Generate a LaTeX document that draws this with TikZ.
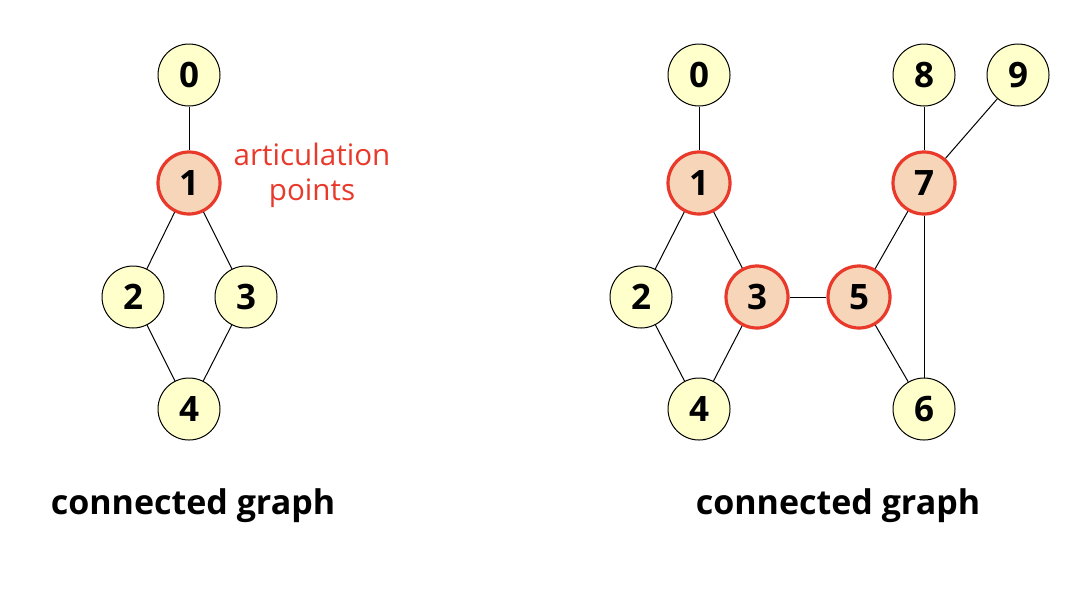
\documentclass[tikz,border=0pt]{standalone}
\usepackage{fontspec}
\setmainfont{Open Sans}
\usetikzlibrary{positioning}
\definecolor{vyellow}{HTML}{FFFFCC}
\definecolor{apfill}{HTML}{F6D5B9}
\definecolor{apred}{HTML}{E8392B}

\begin{document}
\begin{tikzpicture}[
  x=0.5pt, y=-0.5pt,
  vertex/.style={circle, draw=black, line width=0.5pt, fill=vyellow, minimum size=31pt, inner sep=0pt, font=\fontsize{17.5}{19}\selectfont\bfseries},
  artic/.style={vertex, draw=apred, line width=1.6pt, fill=apfill},
  edge/.style={draw=black, line width=0.5pt},
  caption/.style={font=\fontsize{17}{19}\selectfont\bfseries}
]
\useasboundingbox (0,0) rectangle (1068,590);

% left graph
\node[vertex] (l0) at (189,75) {0};
\node[artic] (l1) at (189,183) {1};
\node[vertex] (l2) at (133,297) {2};
\node[vertex] (l3) at (246,297) {3};
\node[vertex] (l4) at (189,409) {4};
\node[text=apred, align=center, font=\fontsize{14.8}{17.5}\selectfont] (note) at (312,175) {articulation\\points};
\node[caption] (lcap) at (193,506) {connected graph};

\draw[edge] (l0) -- (l1);
\draw[edge] (l1) -- (l2);
\draw[edge] (l1) -- (l3);
\draw[edge] (l2) -- (l4);
\draw[edge] (l3) -- (l4);

% right graph
\node[vertex] (r0) at (699,75) {0};
\node[artic] (r1) at (699,183) {1};
\node[vertex] (r2) at (641,297) {2};
\node[artic] (r3) at (757,297) {3};
\node[vertex] (r4) at (699,409) {4};
\node[artic] (r5) at (859,297) {5};
\node[vertex] (r6) at (924,409) {6};
\node[artic] (r7) at (924,183) {7};
\node[vertex] (r8) at (924,75) {8};
\node[vertex] (r9) at (1018,75) {9};
\node[caption] (rcap) at (838,506) {connected graph};

\draw[edge] (r0) -- (r1);
\draw[edge] (r1) -- (r2);
\draw[edge] (r1) -- (r3);
\draw[edge] (r2) -- (r4);
\draw[edge] (r3) -- (r4);
\draw[edge] (r3) -- (r5);
\draw[edge] (r5) -- (r7);
\draw[edge] (r5) -- (r6);
\draw[edge] (r7) -- (r6);
\draw[edge] (r7) -- (r8);
\draw[edge] (r7) -- (r9);
\end{tikzpicture}
\end{document}
